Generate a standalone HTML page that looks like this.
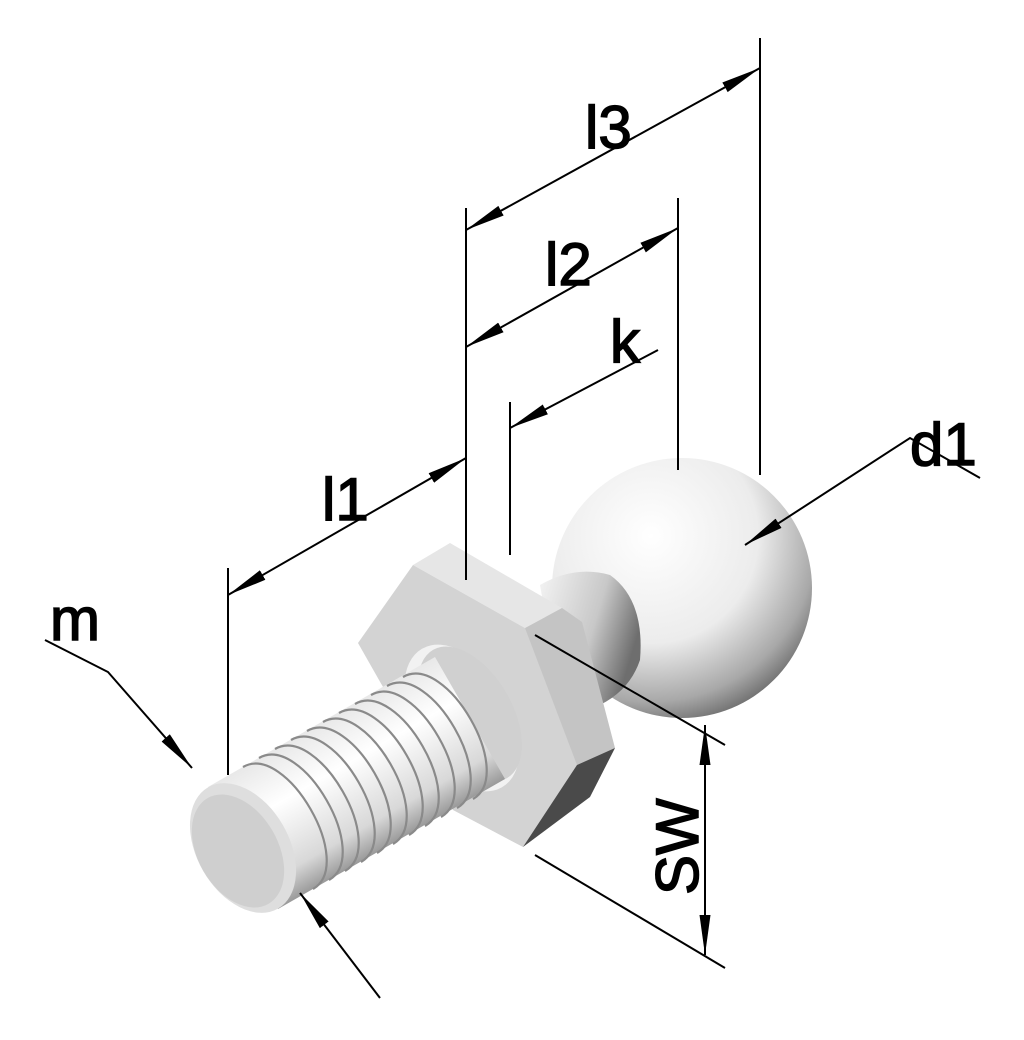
<!DOCTYPE html>
<html><head><meta charset="utf-8"><style>
html,body{margin:0;padding:0;background:#fff}
svg{display:block}
text{font-family:"Liberation Sans",sans-serif;fill:#000}
</style></head><body>
<svg width="1024" height="1040" viewBox="0 0 1024 1040" xmlns="http://www.w3.org/2000/svg">
<defs>
<radialGradient id="ball" cx="0.38" cy="0.3" r="0.75">
<stop offset="0" stop-color="#ffffff"/><stop offset="0.55" stop-color="#ececec"/><stop offset="0.85" stop-color="#a8a8a8"/><stop offset="1" stop-color="#6a6a6a"/>
</radialGradient>
<linearGradient id="neck" x1="0" y1="0" x2="1" y2="0.4">
<stop offset="0" stop-color="#f4f4f4"/><stop offset="0.6" stop-color="#c8c8c8"/><stop offset="1" stop-color="#6e6e6e"/>
</linearGradient>
<linearGradient id="cyl" gradientUnits="userSpaceOnUse" x1="208" y1="787" x2="278" y2="909">
<stop offset="0" stop-color="#e8e8e8"/><stop offset="0.35" stop-color="#ffffff"/><stop offset="0.8" stop-color="#d8d8d8"/><stop offset="1" stop-color="#9a9a9a"/>
</linearGradient>
<marker id="ar" viewBox="0 0 40 12" refX="40" refY="6" markerWidth="40" markerHeight="12" markerUnits="userSpaceOnUse" orient="auto-start-reverse"><path d="M0,0.5 L40,6 L0,11.5 z" fill="#000"/></marker>
</defs>

<circle cx="682" cy="588" r="130" fill="url(#ball)"/>
<path d="M540,585 Q575,565 610,575 Q645,600 640,660 Q630,690 600,705 L560,700 Z" fill="url(#neck)"/>

<polygon points="413,565 450,543 562,608 525,628" fill="#e6e6e6"/>
<polygon points="358,643 413,565 525,628 615,748 523,847 453,810" fill="#d3d3d3"/>
<polygon points="525,628 562,608 582,622 615,748 577,765" fill="#c4c4c4"/>
<polygon points="577,765 615,748 590,797 523,847" fill="#4a4a4a"/>
<ellipse cx="462" cy="718" rx="48" ry="80" transform="rotate(-30 462 718)" fill="#f2f2f2"/>
<ellipse cx="470" cy="714" rx="42" ry="74" transform="rotate(-30 470 714)" fill="#d0d0d0"/>

<polygon points="208,787 435,657 505,779 278,909" fill="url(#cyl)"/>
<g fill="none" stroke="#8a8a8a" stroke-width="2.2">
<path d="M243,767 C286.5,742 356.5,864 313,889"/>
<path d="M259,758 C302.5,733 372.5,855 329,880"/>
<path d="M275,749 C318.5,724 388.5,846 345,871"/>
<path d="M291,740 C334.5,715 404.5,837 361,862"/>
<path d="M307,731 C350.5,706 420.5,828 377,853"/>
<path d="M323,722 C366.5,697 436.5,819 393,844"/>
<path d="M339,713 C382.5,688 452.5,810 409,835"/>
<path d="M355,704 C398.5,679 468.5,801 425,826"/>
<path d="M371,695 C414.5,670 484.5,792 441,817"/>
<path d="M387,686 C430.5,661 500.5,783 457,808"/>
<path d="M403,677 C446.5,652 516.5,774 473,799"/>
</g>
<ellipse cx="243" cy="848" rx="46" ry="70" transform="rotate(-30 243 848)" fill="#dedede"/>
<ellipse cx="238" cy="851" rx="40" ry="61" transform="rotate(-30 238 851)" fill="#cfcfcf"/>

<g stroke="#000" stroke-width="2" fill="none">
<line x1="466" y1="208" x2="466" y2="580"/>
<line x1="760" y1="38" x2="760" y2="475"/>
<line x1="678" y1="198" x2="678" y2="470"/>
<line x1="510" y1="402" x2="510" y2="555"/>
<line x1="228" y1="568" x2="228" y2="775"/>
<line x1="466" y1="230" x2="760" y2="68" marker-start="url(#ar)" marker-end="url(#ar)"/>
<line x1="466" y1="347" x2="678" y2="228" marker-start="url(#ar)" marker-end="url(#ar)"/>
<line x1="658" y1="350" x2="510" y2="428" marker-end="url(#ar)"/>
<line x1="228" y1="595" x2="466" y2="458" marker-start="url(#ar)" marker-end="url(#ar)"/>
<polyline points="980,478 910,438 745,545" marker-end="url(#ar)"/>
<polyline points="45,640 108,672 192,768" marker-end="url(#ar)"/>
<line x1="380" y1="998" x2="300" y2="893" marker-end="url(#ar)"/>
<line x1="535" y1="635" x2="725" y2="745"/>
<line x1="535" y1="855" x2="725" y2="968"/>
<line x1="705" y1="725" x2="705" y2="955" marker-start="url(#ar)" marker-end="url(#ar)"/>
</g>

<g font-size="60" stroke="#000" stroke-width="1.5">
<text x="585" y="148">l3</text>
<text x="545" y="285">l2</text>
<text x="610" y="362">k</text>
<text x="322" y="520">l1</text>
<text x="910" y="465">d1</text>
<text x="50" y="640">m</text>
<text transform="translate(698,895) rotate(-90)">SW</text>
</g>
</svg>
</body></html>
